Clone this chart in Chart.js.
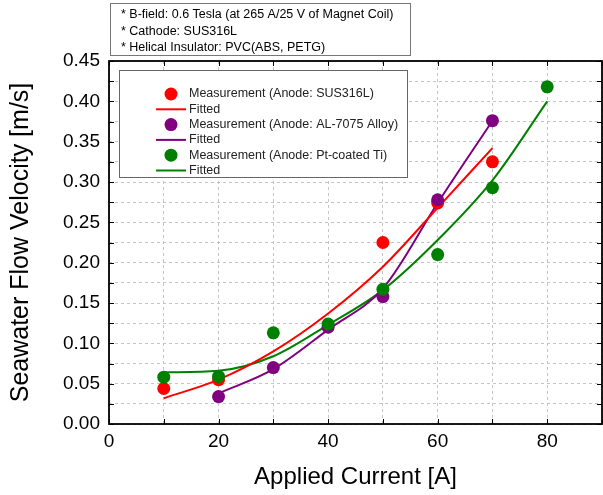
<!DOCTYPE html>
<html lang="en">
<head>
  <meta charset="UTF-8">
  <title>Seawater Flow Velocity vs Applied Current</title>
  <script src="https://cdn.jsdelivr.net/npm/chart.js"></script>
  <style>
    body { margin: 0; background: #fff; }
    #wrap { position: relative; width: 603px; height: 495px; }
  </style>
</head>
<body>
  <div id="wrap"><canvas id="grafico" width="603" height="495"></canvas></div>

  <script>
    // measured points
    const susX = [10, 20, 50, 60, 70];
    const susY = [0.044, 0.055, 0.225, 0.274, 0.325];
    const alX = [20, 30, 40, 50, 60, 70];
    const alY = [0.034, 0.070, 0.120, 0.158, 0.278, 0.376];
    const ptX = [10, 20, 30, 40, 50, 60, 70, 80];
    const ptY = [0.058, 0.059, 0.113, 0.124, 0.167, 0.210, 0.293, 0.418];

    // fitted curves
    const susFitX = [10, 20, 30, 40, 50, 60, 70];
    const susFitY = [0.032, 0.055, 0.090, 0.137, 0.195, 0.268, 0.342];
    const alFitX = [20, 30, 40, 50, 60, 70];
    const alFitY = [0.038, 0.068, 0.117, 0.168, 0.274, 0.376];
    const ptFitX = [10, 20, 30, 40, 50, 60, 70, 80];
    const ptFitY = [0.064, 0.066, 0.084, 0.123, 0.166, 0.228, 0.302, 0.400];

    const notes = [
      '* B-field: 0.6 Tesla (at 265 A/25 V of Magnet Coil)',
      '* Cathode: SUS316L',
      '* Helical Insulator: PVC(ABS, PETG)'
    ];

    const FONT = '"Liberation Sans", Arial, sans-serif';
    const pares = (xs, ys) => xs.map((x, i) => ({ x: x, y: ys[i] }));

    function puntos(label, xs, ys, color, order) {
      return { label: label, data: pares(xs, ys), showLine: false, pointRadius: 6.5,
        pointHoverRadius: 6.5, backgroundColor: color, borderColor: color, borderWidth: 0, order: order };
    }
    function curva(label, xs, ys, color) {
      return { label: label, data: pares(xs, ys), showLine: true, pointRadius: 0, borderColor: color,
        backgroundColor: color, borderWidth: 2, cubicInterpolationMode: 'monotone', fill: false, order: 10 };
    }

    // frame with inward ticks
    const marco = {
      id: 'marco',
      afterDatasetsDraw(chart) {
        const { ctx, chartArea: a, scales: { x, y } } = chart;
        ctx.save();
        ctx.strokeStyle = '#000';
        ctx.lineWidth = 1;
        ctx.beginPath();
        x.ticks.forEach(t => {
          const px = Math.round(x.getPixelForValue(t.value)) + 0.5;
          ctx.moveTo(px, a.bottom); ctx.lineTo(px, a.bottom - 5);
          ctx.moveTo(px, a.top); ctx.lineTo(px, a.top + 5);
        });
        y.ticks.forEach(t => {
          const py = Math.round(y.getPixelForValue(t.value)) + 0.5;
          ctx.moveTo(a.left, py); ctx.lineTo(a.left + 5, py);
          ctx.moveTo(a.right, py); ctx.lineTo(a.right - 5, py);
        });
        ctx.stroke();
        ctx.lineWidth = 1.8;
        ctx.strokeRect(a.left, a.top, a.right - a.left, a.bottom - a.top);
        ctx.restore();
      }
    };

    // legend box inside the plot + note box above it
    const leyenda = {
      id: 'leyenda',
      afterDraw(chart) {
        const { ctx, chartArea: a } = chart;
        ctx.save();
        ctx.font = '12.5px ' + FONT;
        ctx.textBaseline = 'middle';

        // notes
        ctx.fillStyle = '#fff';
        ctx.fillRect(110, 3, 300, 52);
        ctx.strokeStyle = '#777';
        ctx.lineWidth = 1;
        ctx.strokeRect(110.5, 3.5, 300, 52);
        ctx.fillStyle = '#000';
        notes.forEach((t, i) => ctx.fillText(t, 121, 15 + i * 16.5));

        // legend
        const bx = a.left + 10, by = a.top + 9;
        ctx.fillStyle = '#fff';
        ctx.fillRect(bx, by, 288, 107);
        ctx.strokeStyle = '#666';
        ctx.strokeRect(bx + 0.5, by + 0.5, 288, 107);
        chart.data.datasets.forEach((ds, i) => {
          const cy = by + 24 + i * 15.3;
          if (ds.showLine) {
            ctx.strokeStyle = ds.borderColor;
            ctx.lineWidth = 2;
            ctx.beginPath(); ctx.moveTo(bx + 37, cy); ctx.lineTo(bx + 67, cy); ctx.stroke();
          } else {
            ctx.fillStyle = ds.backgroundColor;
            ctx.beginPath(); ctx.arc(bx + 52, cy, 6.5, 0, Math.PI * 2); ctx.fill();
          }
          ctx.fillStyle = '#222';
          ctx.fillText(ds.label, bx + 70, cy);
        });
        ctx.restore();
      }
    };

    const ctx = document.getElementById('grafico').getContext('2d');
    new Chart(ctx, {
      type: 'scatter',
      data: {
        datasets: [
          puntos('Measurement (Anode: SUS316L)', susX, susY, '#ff0000', 2),
          curva('Fitted', susFitX, susFitY, '#ff0000'),
          puntos('Measurement (Anode: AL-7075 Alloy)', alX, alY, '#800080', 1),
          curva('Fitted', alFitX, alFitY, '#800080'),
          puntos('Measurement (Anode: Pt-coated Ti)', ptX, ptY, '#008000', 0),
          curva('Fitted', ptFitX, ptFitY, '#008000')
        ]
      },
      options: {
        responsive: false,
        animation: false,
        layout: { autoPadding: false, padding: { top: 61, right: 1, left: 0, bottom: 0 } },
        plugins: { legend: { display: false }, tooltip: { enabled: false } },
        scales: {
          x: {
            type: 'linear', min: 0, max: 90,
            afterFit: s => { s.height = 71; s.paddingLeft = 0; s.paddingRight = 0; },
            ticks: {
              stepSize: 10, autoSkip: false, maxRotation: 0, padding: 6, color: '#000',
              font: { family: FONT, size: 19 },
              callback: v => (v % 20 === 0 && v <= 80) ? String(v) : ''
            },
            grid: { color: '#c4c4c4', lineWidth: 1, drawTicks: false },
            border: { display: false, dash: [3, 3] },
            title: { display: true, text: 'Applied Current [A]', color: '#000',
              font: { family: FONT, size: 24 }, padding: { top: 0, bottom: 3 } }
          },
          y: {
            type: 'linear', min: 0, max: 0.45,
            afterFit: s => { s.width = 109; s.paddingTop = 0; s.paddingBottom = 0; },
            ticks: {
              stepSize: 0.025, autoSkip: false, padding: 9, color: '#000',
              font: { family: FONT, size: 19 },
              callback: v => {
                const k = Math.round(v / 0.025);
                return k % 2 === 0 ? (k * 0.025).toFixed(2) : '';
              }
            },
            grid: { color: '#c4c4c4', lineWidth: 1, drawTicks: false },
            border: { display: false, dash: [3, 3] },
            title: { display: true, text: 'Seawater Flow Velocity [m/s]', color: '#000',
              font: { family: FONT, size: 25 }, padding: { top: 6, bottom: 0 } }
          }
        }
      },
      plugins: [marco, leyenda]
    });
  </script>
</body>
</html>
